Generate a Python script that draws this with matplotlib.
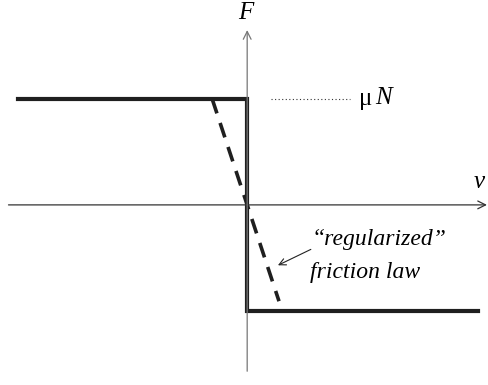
import matplotlib.pyplot as plt

plt.rcParams['font.family'] = ['Liberation Serif', 'DejaVu Serif']

# Coulomb friction: F jumps from +muN to -muN at v = 0
v_step = [-2.16, 0.0, 0.0, 2.18]
F_step = [1.0, 1.0, -1.0, -1.0]

# regularized law: steep linear ramp through the origin
eps = 0.33
v_reg = [-0.33, 0.30]
F_reg = [-v / eps for v in v_reg]

fig = plt.figure(figsize=(4.88, 3.85), dpi=100)
ax = fig.add_axes([0, 0, 1, 1])
ax.set_xlim(-2.33, 2.27)
ax.set_ylim(-1.70, 1.934)
ax.axis('off')

# coordinate axes
ax.annotate('', xy=(2.26, 0), xytext=(-2.25, 0),
            arrowprops=dict(arrowstyle='->', lw=0.9, color='#333333',
                            mutation_scale=14, shrinkA=0, shrinkB=0))
ax.annotate('', xy=(0, 1.65), xytext=(0, -1.57),
            arrowprops=dict(arrowstyle='->', lw=0.9, color='#777777',
                            mutation_scale=14, shrinkA=0, shrinkB=0))

ax.plot(v_step, F_step, color='#1f1f1f', lw=3.0, solid_joinstyle='miter')
ax.plot(v_reg, F_reg, color='#1f1f1f', lw=2.6, dashes=(4.2, 2.8))

# level marker for muN
ax.plot([0.22, 0.97], [1.0, 1.0], color='#333333', lw=0.8, ls=(0, (1, 2.2)))
ax.text(1.05, 1.0, 'μ', fontsize=18, va='center', ha='left')
ax.text(1.21, 1.01, 'N', fontsize=18, style='italic', va='center', ha='left')

ax.text(-0.01, 1.81, 'F', fontsize=18, style='italic', ha='center', va='center')
ax.text(2.19, 0.22, 'v', fontsize=18, style='italic', ha='center', va='center')

ax.annotate('', xy=(0.29, -0.57), xytext=(0.60, -0.42),
            arrowprops=dict(arrowstyle='->', lw=0.8, color='#222222',
                            mutation_scale=12, shrinkA=0, shrinkB=0))
ax.text(0.61, -0.33, '“regularized”', fontsize=17, style='italic',
        ha='left', va='center')
ax.text(0.59, -0.64, 'friction law', fontsize=17, style='italic',
        ha='left', va='center')

fig.savefig('out.png', dpi=100)
